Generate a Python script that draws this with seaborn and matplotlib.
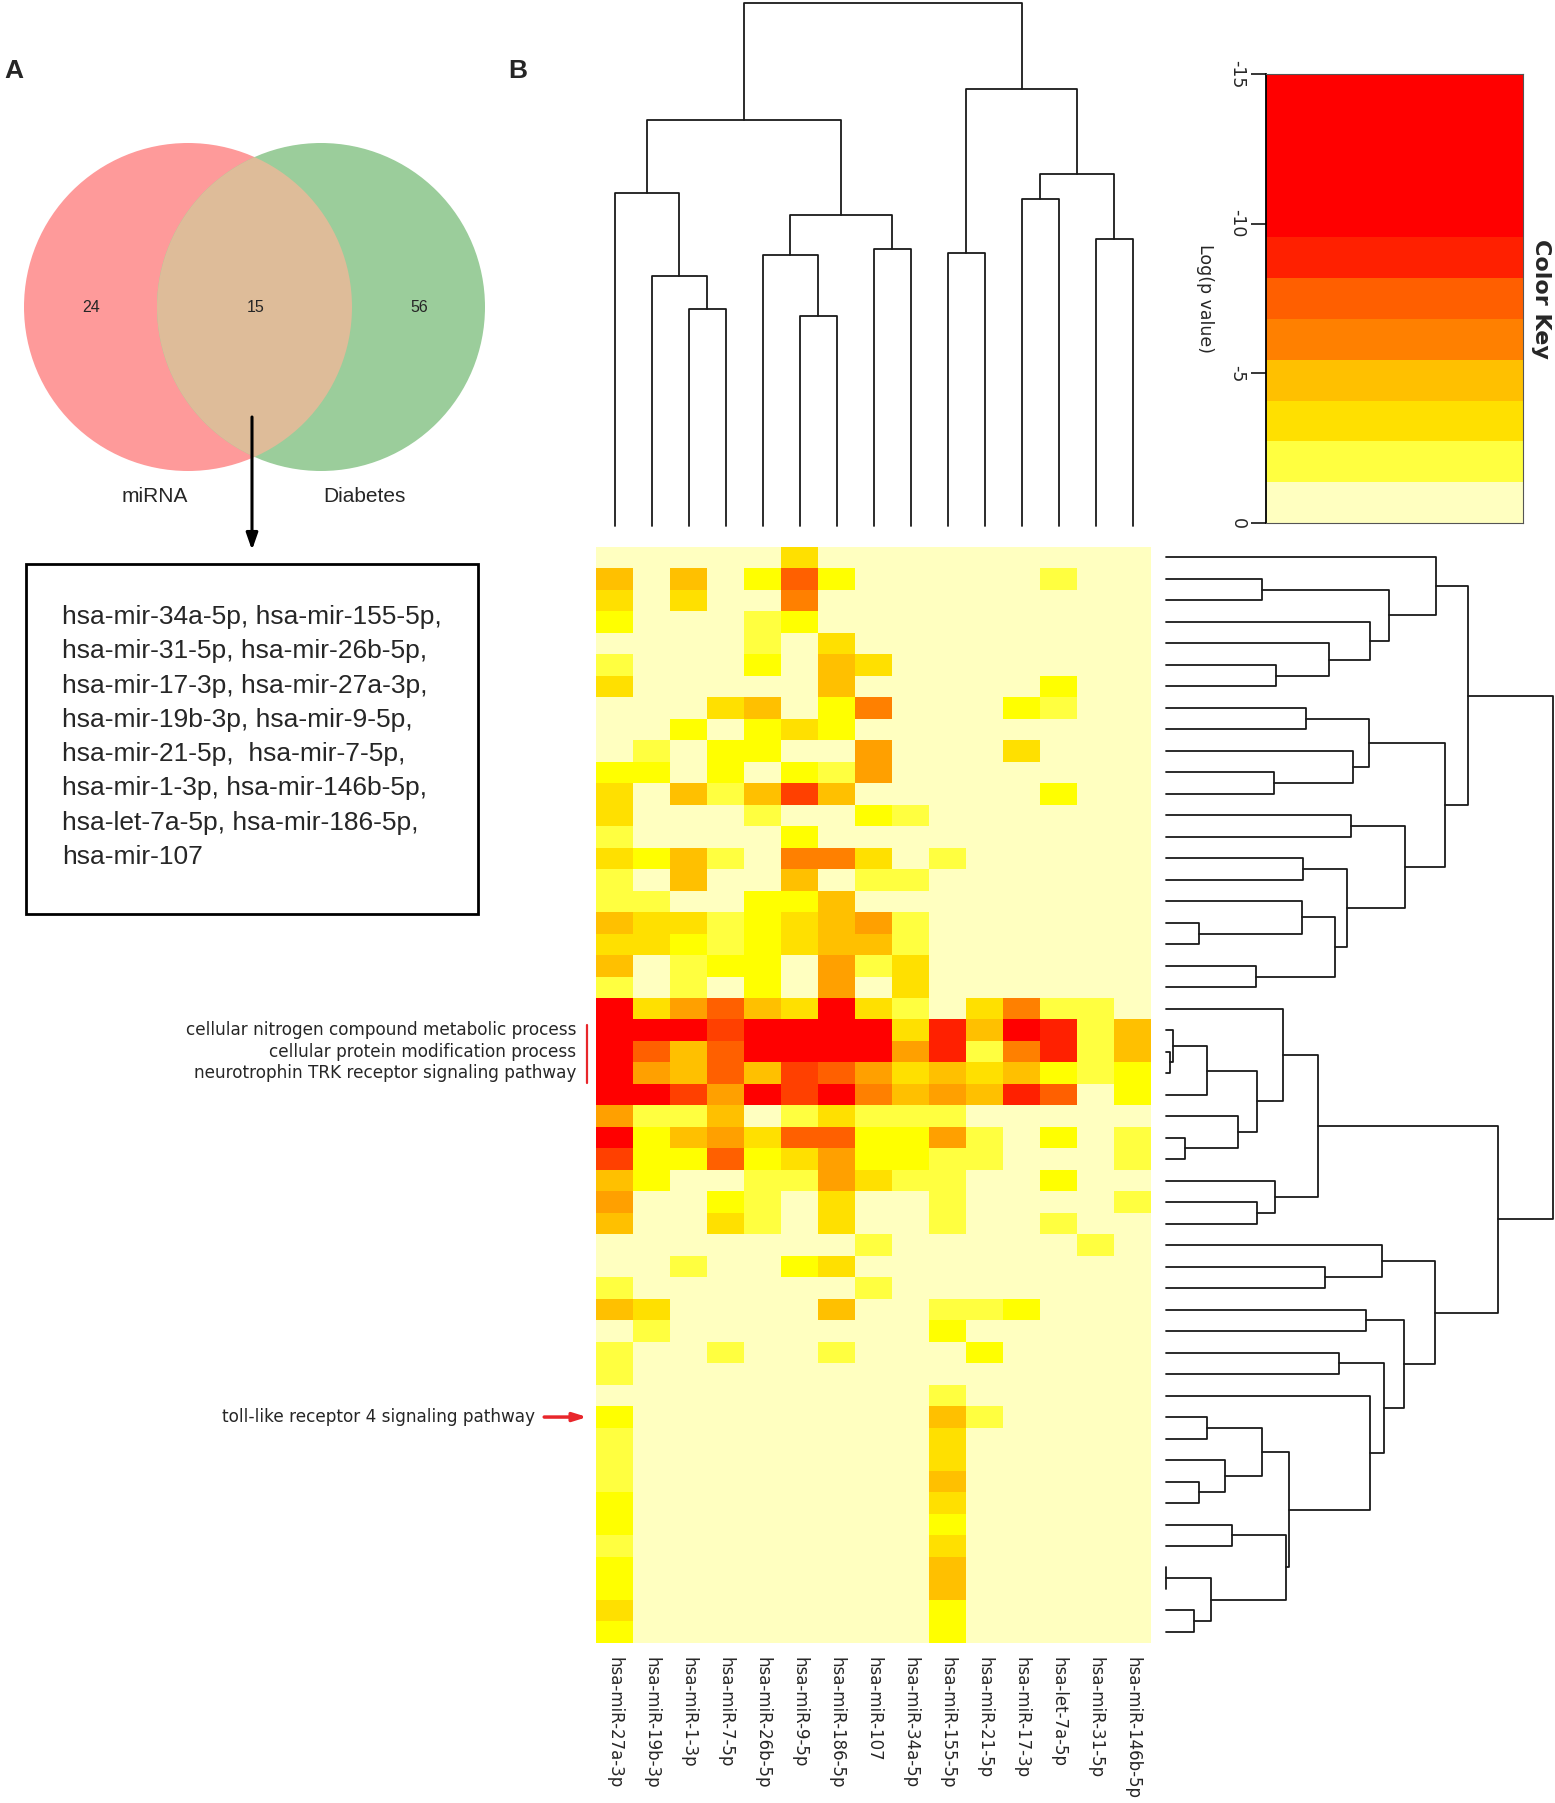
import numpy as np
import pandas as pd
import matplotlib
matplotlib.use("Agg")
import matplotlib.pyplot as plt
from matplotlib.colors import ListedColormap
from matplotlib.patches import Circle, Rectangle
import seaborn as sns

# ---- data ----
venn_sets = ["miRNA", "Diabetes"]
venn_counts = [24, 15, 56]          # only miRNA, shared, only diabetes
shared_lines = [
    "hsa-mir-34a-5p, hsa-mir-155-5p,",
    "hsa-mir-31-5p, hsa-mir-26b-5p,",
    "hsa-mir-17-3p, hsa-mir-27a-3p,",
    "hsa-mir-19b-3p, hsa-mir-9-5p,",
    "hsa-mir-21-5p,  hsa-mir-7-5p,",
    "hsa-mir-1-3p, hsa-mir-146b-5p,",
    "hsa-let-7a-5p, hsa-mir-186-5p,",
    "hsa-mir-107",
]

mirnas = ["hsa-miR-27a-3p", "hsa-miR-19b-3p", "hsa-miR-1-3p", "hsa-miR-7-5p",
          "hsa-miR-26b-5p", "hsa-miR-9-5p", "hsa-miR-186-5p", "hsa-miR-107",
          "hsa-miR-34a-5p", "hsa-miR-155-5p", "hsa-miR-21-5p", "hsa-miR-17-3p",
          "hsa-let-7a-5p", "hsa-miR-31-5p", "hsa-miR-146b-5p"]

# significance class of each GO term (row) per miRNA, 0 = n.s. ... a = most significant
level_rows = [
    "000003000000000", "404027200000100", "303006000000000", "200012000000000",
    "000010300000000", "100020430000000", "300000400000200", "000340260002100",
    "002023200000000", "010220050003000", "220202150000000", "304148400000200",
    "300010021000000", "100002000000000", "324106630100000", "104004011000000",
    "110022400000000", "433123451000000", "332123441000000", "401220513000000",
    "101020503000000", "a35743a31036110", "aaa8aaaa394a914", "a747aaaa5916914",
    "a54748753434212", "aa85a8a64549702", "511401311100000", "a24537722510201",
    "822723522110001", "420011531100200", "500210300100001", "400310300100100",
    "000000010000010", "001002300000000", "100000010000000", "430000400112000",
    "010000000200000", "100100100020000", "100000000000000", "000000000100000",
    "200000000410000", "100000000300000", "100000000300000", "100000000400000",
    "200000000300000", "200000000200000", "100000000300000", "200000000400000",
    "200000000400000", "300000000200000", "200000000200000",
]
level_colors = ["#FFFFC0", "#FFFF40", "#FFFF00", "#FFE000", "#FFC000", "#FFA000",
                "#FF8000", "#FF6000", "#FF4000", "#FF2000", "#FF0000"]

row_labels = {22: "cellular nitrogen compound metabolic process",
              23: "cellular protein modification process",
              24: "neurotrophin TRK receptor signaling pathway"}
arrow_row = 40
arrow_label = "toll-like receptor 4 signaling pathway"

key_colors = ["#FFFFC0", "#FFFF40", "#FFE000", "#FFC000", "#FF8000", "#FF5F00",
              "#FF2000", "#FF0000", "#FF0000", "#FF0000", "#FF0000"]
key_ticks = [0, -5, -10, -15]

# dendrograms: (left, right, merge height); ints are leaf indices
col_tree = (((0, (1, (2, 3, 623), 719), 957),
             ((4, (5, 6, 604), 779), (7, 8, 796), 892), 1167),
            ((9, 10, 783), ((11, 12, 940), (13, 14, 823), 1012), 1256), 1502)

rows_a = (0, ((1, 2, 288), (3, (4, (5, 6, 331), 491), 613), 670), 813)
rows_b = ((7, 8, 420), (9, (10, 11, 325), 561), 610)
rows_c = ((12, 13, 556), ((14, 15, 411),
          ((16, (17, 18, 100), 408), (19, 20, 270), 509), 545), 719)
rows_d = ((21, (((22, (23, 24, 13), 21), 25, 123), (26, (27, 28, 58), 216), 275), 353),
          (29, (30, 31, 273), 329), 458)
rows_e = ((32, (33, 34, 479), 650),
          ((35, 36, 600),
           ((37, 38, 521),
            (39, (((40, 41, 125), (42, (43, 44, 99), 178), 289),
                  ((45, 46, 200), ((47, 48, 2), (49, 50, 86), 135), 361), 371), 614),
            655), 716), 810)
row_tree = ((rows_a, (rows_b, rows_c, 838), 908), (rows_d, rows_e, 998), 1163)

# ---- figure ----
W, H = 1555, 1803


def box(x0, y0, x1, y1):
    return [x0 / W, 1 - y1 / H, (x1 - x0) / W, (y1 - y0) / H]


def draw_tree(ax, node, top=True):
    if isinstance(node, int):
        return node + 0.5, 0
    left, right, h = node
    lp, lh = draw_tree(ax, left, top)
    rp, rh = draw_tree(ax, right, top)
    if top:
        ax.plot([lp, lp, rp, rp], [lh, h, h, rh], color="#1a1a1a", lw=1.3, clip_on=False)
    else:
        ax.plot([lh, h, h, rh], [lp, lp, rp, rp], color="#1a1a1a", lw=1.3, clip_on=False)
    return (lp + rp) / 2, h


sns.set_style("white")
plt.rcParams['font.family'] = ['DejaVu Sans']
arial = ['Liberation Sans', 'DejaVu Sans']

fig = plt.figure(figsize=(W / 100, H / 100), dpi=100)
bg = fig.add_axes([0, 0, 1, 1])
bg.set_xlim(0, W)
bg.set_ylim(H, 0)
bg.axis('off')

# panel A: venn
bg.text(4, 71, "A", fontsize=19, fontweight='bold', family=arial, va='center')
bg.text(508, 71, "B", fontsize=19, fontweight='bold', family=arial, va='center')
c_left = Circle((188, 307), 164, fc="#FE9A9A", ec='none')
c_right = Circle((321, 307), 164, fc="#9BCD9B", ec='none')
bg.add_patch(c_left)
bg.add_patch(c_right)
c_mid = Circle((188, 307), 164, fc="#DEBC99", ec='none')
bg.add_patch(c_mid)
c_mid.set_clip_path(c_right)
for xc, n in zip([91, 256, 419], venn_counts):
    bg.text(xc, 307, str(n), fontsize=11.5, family=arial, ha='center', va='center')
for xc, s in zip([155, 364], venn_sets):
    bg.text(xc, 496, s, fontsize=15, family=arial, ha='center', va='center')
bg.annotate('', xy=(252, 550), xytext=(252, 417),
            arrowprops=dict(arrowstyle='-|>,head_length=1.0,head_width=0.35',
                            color='black', lw=2.2, shrinkA=0, shrinkB=0))
bg.add_patch(Rectangle((26, 564), 452, 350, fill=False, ec='black', lw=2))
for k, line in enumerate(shared_lines):
    bg.text(62, 617 + k * 34.3, line, fontsize=19, family=arial, va='center')

# panel B: heatmap
levels = np.array([[int(ch, 16) for ch in r] for r in level_rows])
df = pd.DataFrame(levels, columns=mirnas)
ax_hm = fig.add_axes(box(596, 546.7, 1151, 1642.7))
sns.heatmap(df, ax=ax_hm, cmap=ListedColormap(level_colors), vmin=-0.5, vmax=10.5,
            cbar=False, xticklabels=True, yticklabels=False)
ax_hm.set_xticklabels(mirnas, rotation=270, fontsize=12, va='top', ha='center')
ax_hm.tick_params(axis='x', length=0, pad=10)
ax_hm.set_xlabel('')
ax_hm.set_ylabel('')

for r, lab in row_labels.items():
    ax_hm.text(-0.54, r + 0.5, lab, fontsize=12.2, ha='right', va='center', clip_on=False)
ax_hm.plot([-0.24, -0.24], [22.25, 24.95], color='#E8262B', lw=1.6, clip_on=False)
ax_hm.text(-1.65, arrow_row + 0.5, arrow_label, fontsize=12.2, ha='right', va='center',
           clip_on=False)
ax_hm.annotate('', xy=(-0.24, arrow_row + 0.5), xytext=(-1.4, arrow_row + 0.5),
               annotation_clip=False,
               arrowprops=dict(arrowstyle='-|>,head_length=0.8,head_width=0.25',
                               color='#E8262B', lw=2.5, shrinkA=0, shrinkB=0))

# column dendrogram
ax_top = fig.add_axes(box(596, 3.5, 1151, 525.5))
ax_top.set_xlim(0, len(mirnas))
ax_top.set_ylim(0, col_tree[2])
ax_top.axis('off')
draw_tree(ax_top, col_tree, top=True)

# row dendrogram
ax_rt = fig.add_axes(box(1165.7, 546.7, 1553, 1642.7))
ax_rt.set_xlim(0, row_tree[2])
ax_rt.set_ylim(len(level_rows), 0)
ax_rt.axis('off')
draw_tree(ax_rt, row_tree, top=False)

# colour key
ax_key = fig.add_axes(box(1266, 74, 1523, 523))
edges = np.linspace(0, -15, len(key_colors) + 1)
ax_key.pcolormesh([0, 1], edges, np.arange(len(key_colors)).reshape(-1, 1),
                  cmap=ListedColormap(key_colors), vmin=-0.5, vmax=len(key_colors) - 0.5)
ax_key.set_xlim(0, 1)
ax_key.set_ylim(0, -15)
ax_key.set_xticks([])
ax_key.set_yticks(key_ticks)
ax_key.set_yticklabels([str(t) for t in key_ticks], rotation=270, va='center')
ax_key.tick_params(axis='y', length=11, width=1.3, labelsize=12.5, pad=3, left=True)
for side, sp in ax_key.spines.items():
    sp.set_visible(True)
    sp.set_color('#555555')
    sp.set_linewidth(0.8)
ax_key.spines['left'].set_color('black')
ax_key.spines['left'].set_linewidth(1.3)
bg.text(1205, 299, "Log(p value)", fontsize=12.5, rotation=270, ha='center', va='center')
bg.text(1541, 299, "Color Key", fontsize=16, fontweight='bold', rotation=270,
        ha='center', va='center')

fig.savefig("out.png", dpi=100)
